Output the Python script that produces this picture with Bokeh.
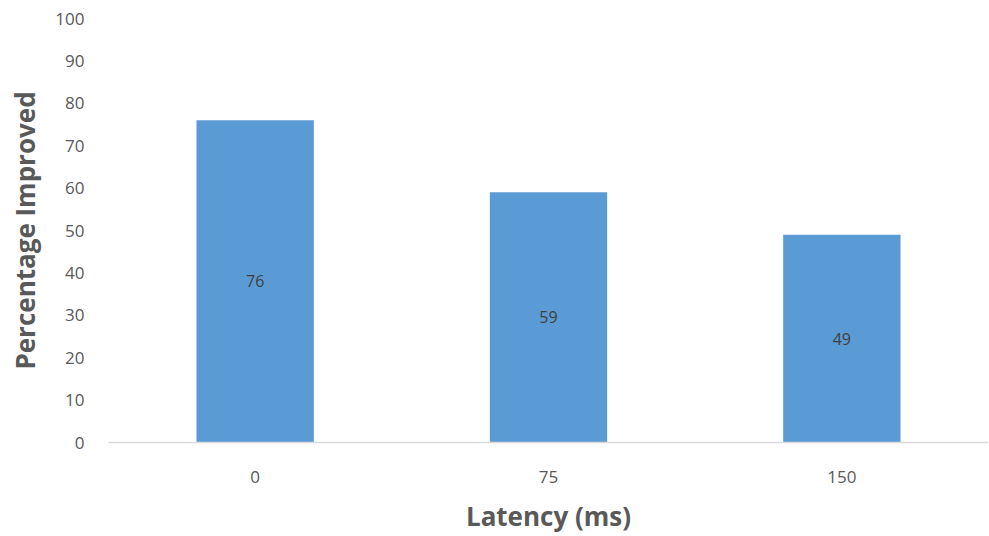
from bokeh.plotting import figure
from bokeh.models import ColumnDataSource, Range1d, FactorRange, LabelSet
from bokeh.core.properties import value
from bokeh.embed import file_html
from bokeh.resources import INLINE

latency = ["0", "75", "150"]
improved = [76, 59, 49]
label_pos = [v / 2 for v in improved]
labels = [str(v) for v in improved]

src = ColumnDataSource(dict(x=latency, top=improved, mid=label_pos, txt=labels))

p = figure(width=988, height=536, x_range=FactorRange(*latency), y_range=Range1d(0, 100),
           output_backend="svg", toolbar_location=None,
           min_border_left=108, min_border_right=0, min_border_top=18, min_border_bottom=80)
p.outline_line_color = None
p.grid.visible = False
p.x_range.range_padding = 0

p.vbar(x="x", top="top", width=0.4, source=src, fill_color="#5B9BD5", line_color=None)
p.add_layout(LabelSet(x="x", y="mid", text="txt", source=src, text_align="center",
                      text_baseline="middle", text_color="#404040", text_font_size="16px",
                      text_font=value("Open Sans")))

font = "Open Sans"
p.yaxis.ticker = list(range(0, 101, 10))
p.yaxis.axis_line_color = None
p.yaxis.major_tick_line_color = None
p.yaxis.minor_tick_line_color = None
p.yaxis.major_label_text_color = "#595959"
p.yaxis.major_label_text_font = font
p.yaxis.major_label_text_font_size = "17px"
p.yaxis.major_label_standoff = 18
p.yaxis.axis_label = "Percentage Improved"
p.yaxis.axis_label_text_font = font
p.yaxis.axis_label_text_font_style = "bold"
p.yaxis.axis_label_text_font_size = "26px"
p.yaxis.axis_label_text_color = "#595959"
p.yaxis.axis_label_standoff = 9

p.xaxis.axis_line_color = "#d9d9d9"
p.xaxis.axis_line_width = 1.5
p.xaxis.major_tick_line_color = None
p.xaxis.minor_tick_line_color = None
p.xaxis.major_label_text_color = "#595959"
p.xaxis.major_label_text_font = font
p.xaxis.major_label_text_font_size = "17px"
p.xaxis.major_label_standoff = 22
p.xaxis.axis_label = "Latency (ms)"
p.xaxis.axis_label_text_font = font
p.xaxis.axis_label_text_font_style = "bold"
p.xaxis.axis_label_text_font_size = "26px"
p.xaxis.axis_label_text_color = "#595959"
p.xaxis.axis_label_standoff = 12

open("out.html", "w").write(file_html(p, INLINE))
